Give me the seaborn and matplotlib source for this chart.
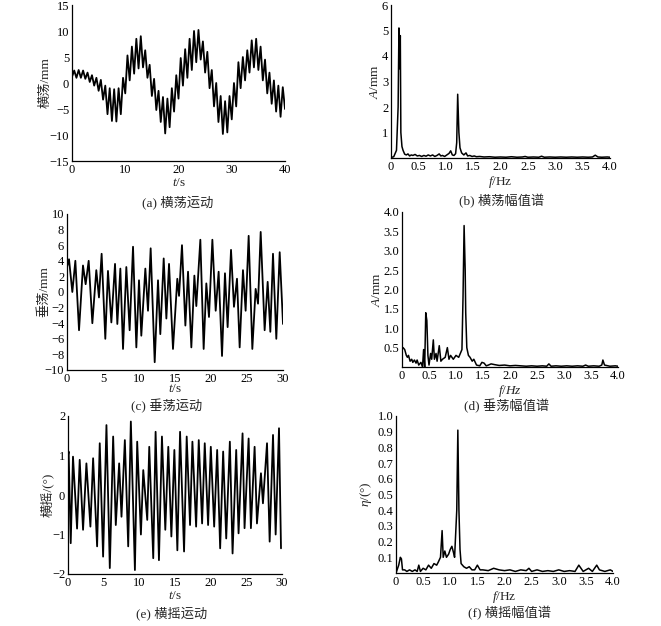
import matplotlib
matplotlib.use("Agg")
import matplotlib.pyplot as plt
import numpy as np
import seaborn as sns

sns.set_style("white")
plt.rcParams["font.family"] = ["Liberation Serif", "Noto Sans CJK SC"]
plt.rcParams["mathtext.fontset"] = "custom"
plt.rcParams["mathtext.rm"] = "Liberation Serif"
plt.rcParams["mathtext.it"] = "Liberation Serif:italic"
plt.rcParams["axes.unicode_minus"] = True

# (a) sway time history, extrema every half ripple period (40 s span)
sway = [1.2, 2.4, 1.0, 2.5, 1.0, 2.4, 0.8, 2.0, 0.2, 1.5, -0.5, 1.0, -1.5, 0.6,
        -3.2, -0.5, -6.0, -1.0, -7.3, -1.2, -7.4, -1.0, -6.0, 1.0, -2.0, 5.3,
        0.5, 7.0, 1.8, 8.5, 2.8, 9.0, 3.0, 6.3, 1.0, 3.5, -2.5, 0.8, -5.2, -1.5,
        -7.5, -2.7, -9.7, -3.0, -8.5, -1.0, -5.5, 1.5, -3.0, 4.8, -0.5, 6.5,
        1.0, 8.5, 2.5, 10.0, 4.0, 10.2, 4.5, 8.0, 2.0, 6.0, -1.0, 2.5, -4.5,
        0.0, -7.5, -2.5, -9.8, -3.5, -9.5, -2.5, -7.0, 0.0, -4.5, 4.0, -1.0,
        5.0, 0.5, 6.3, 2.0, 8.2, 3.0, 8.5, 2.5, 7.0, 0.5, 4.5, -2.0, 2.0, -4.0,
        0.5, -5.5, -0.5, -6.5, -0.8, -5.0]
sway_t = np.linspace(0, 40, len(sway))

# (b) sway amplitude spectrum
sway_f = [0, 0.05, 0.10, 0.13, 0.145, 0.16, 0.17, 0.18, 0.20, 0.22, 0.25, 0.28,
          0.31, 0.34, 0.37, 0.40, 0.44, 0.48, 0.52, 0.56, 0.60, 0.64, 0.68,
          0.72, 0.76, 0.80, 0.84, 0.88, 0.91, 0.94, 0.98, 1.02, 1.06, 1.09,
          1.12, 1.15, 1.18, 1.20, 1.218, 1.24, 1.26, 1.29, 1.33, 1.37, 1.40,
          1.44, 1.48, 1.52, 1.56, 1.62, 1.70, 1.80, 1.90, 2.00, 2.10, 2.20,
          2.30, 2.40, 2.45, 2.50, 2.60, 2.70, 2.75, 2.80, 2.90, 3.00, 3.10,
          3.20, 3.30, 3.40, 3.50, 3.60, 3.68, 3.73, 3.78, 3.85, 3.95, 4.0]
sway_A = [0.02, 0.05, 0.3, 2.0, 5.1, 3.5, 4.8, 1.0, 0.45, 0.3, 0.15, 0.12,
          0.16, 0.08, 0.12, 0.1, 0.14, 0.08, 0.1, 0.06, 0.1, 0.07, 0.12, 0.08,
          0.12, 0.06, 0.1, 0.16, 0.08, 0.1, 0.06, 0.12, 0.18, 0.28, 0.12, 0.1,
          0.17, 0.6, 2.5, 1.0, 0.4, 0.2, 0.12, 0.2, 0.08, 0.1, 0.06, 0.08, 0.05,
          0.06, 0.04, 0.05, 0.03, 0.04, 0.03, 0.05, 0.03, 0.04, 0.06, 0.03,
          0.04, 0.03, 0.07, 0.03, 0.04, 0.03, 0.04, 0.03, 0.04, 0.03, 0.04,
          0.03, 0.04, 0.11, 0.04, 0.03, 0.04, 0.03]

# (c) heave time history, extrema
heave_t = [0, 0.28, 0.74, 1.16, 1.67, 2.22, 2.59, 3.01, 3.52, 4.07, 4.44, 4.81,
           5.32, 5.69, 6.16, 6.67, 6.99, 7.41, 7.78, 8.24, 8.70, 9.17, 9.63,
           10.0, 10.32, 10.88, 11.25, 11.62, 12.18, 12.64, 12.96, 13.43, 13.80,
           14.17, 14.72, 15.32, 15.56, 15.97, 16.44, 16.81, 17.27, 17.69, 17.96,
           18.52, 18.98, 19.35, 19.72, 20.19, 20.65, 21.06, 21.53, 21.94, 22.31,
           22.78, 23.19, 23.61, 23.98, 24.44, 24.81, 25.23, 25.74, 26.20, 26.53,
           26.90, 27.45, 27.87, 28.24, 28.61, 29.07, 29.54, 30.0]
heave = [3.2, 4.2, 0.0, 4.0, -4.9, 3.4, 1.0, 4.0, -4.0, 2.8, -0.7, 4.9, -6.0,
         2.7, -3.9, 3.6, -4.1, 3.0, -7.3, 3.2, -4.9, 5.8, -7.1, 1.5, -5.6, 3.0,
         -2.4, 5.6, -9.0, 1.5, -5.4, 4.3, -3.4, 3.6, -7.3, 1.7, -0.5, 6.0, -4.3,
         2.6, -7.1, 2.1, -1.8, 6.7, -7.3, 1.1, -3.2, 6.7, -2.4, 2.6, -8.2, 2.4,
         -4.5, 5.4, -1.9, 1.7, -7.1, 2.8, -2.4, 7.2, -7.3, 0.4, -1.5, 7.7, -4.9,
         1.3, -5.1, 4.9, -6.0, 5.1, -4.1]

# (d) heave amplitude spectrum
heave_f = [0, 0.02, 0.05, 0.08, 0.10, 0.12, 0.15, 0.18, 0.20, 0.23, 0.26, 0.28,
           0.31, 0.35, 0.38, 0.40, 0.42, 0.44, 0.46, 0.48, 0.50, 0.53, 0.55,
           0.58, 0.60, 0.63, 0.65, 0.69, 0.72, 0.75, 0.80, 0.84, 0.87, 0.90,
           0.95, 1.00, 1.05, 1.08, 1.11, 1.13, 1.15, 1.17, 1.18, 1.20, 1.23,
           1.26, 1.30, 1.33, 1.38, 1.44, 1.48, 1.52, 1.56, 1.60, 1.65, 1.72,
           1.80, 1.90, 2.00, 2.10, 2.20, 2.30, 2.40, 2.50, 2.60, 2.68, 2.72,
           2.76, 2.85, 2.95, 3.05, 3.15, 3.25, 3.35, 3.40, 3.45, 3.55, 3.65,
           3.70, 3.72, 3.75, 3.85, 3.95, 4.0]
heave_A = [0.45, 0.5, 0.45, 0.3, 0.25, 0.3, 0.15, 0.2, 0.12, 0.18, 0.1, 0.18,
           0.05, 0.12, 0.0, 0.45, 0.0, 1.4, 1.2, 0.3, 0.05, 0.35, 0.2, 0.7,
           0.2, 0.35, 0.15, 0.55, 0.15, 0.2, 0.25, 0.5, 0.2, 0.3, 0.2, 0.3,
           0.25, 0.35, 0.45, 1.8, 3.65, 2.5, 1.4, 0.5, 0.3, 0.25, 0.15, 0.2,
           0.05, 0.03, 0.12, 0.1, 0.03, 0.05, 0.08, 0.06, 0.04, 0.05, 0.03,
           0.04, 0.03, 0.02, 0.03, 0.02, 0.03, 0.02, 0.08, 0.02, 0.03, 0.02,
           0.03, 0.02, 0.03, 0.02, 0.05, 0.02, 0.03, 0.02, 0.05, 0.18, 0.05,
           0.02, 0.03, 0.02]

# (e) roll time history, extrema
roll_t = [0, 0.09, 0.38, 0.70, 1.27, 1.64, 2.11, 2.58, 3.14, 3.52, 4.08, 4.45,
          4.92, 5.39, 5.86, 6.33, 6.70, 7.17, 7.50, 7.97, 8.44, 8.81, 9.38,
          9.70, 10.22, 10.55, 11.11, 11.39, 11.95, 12.28, 12.75, 13.17, 13.64,
          14.06, 14.49, 14.91, 15.33, 15.71, 16.27, 16.64, 17.11, 17.44, 17.96,
          18.33, 18.80, 19.17, 19.64, 20.02, 20.49, 20.91, 21.33, 21.75, 22.18,
          22.69, 23.07, 23.58, 23.91, 24.47, 24.75, 25.32, 25.64, 26.16, 26.49,
          27.05, 27.33, 27.90, 28.27, 28.74, 29.11, 29.58, 29.86]
roll = [1.0, 1.1, -1.22, 0.97, -0.85, 0.89, -0.88, 0.8, -0.8, 0.93, -1.3, 1.31,
        -1.56, 1.77, -1.85, 1.48, -0.76, 0.8, -0.55, 1.39, -1.3, 1.86, -1.9,
        1.35, -1.0, 0.63, -0.63, 1.22, -1.6, 1.6, -1.65, 1.48, -0.88, 1.22,
        -1.05, 1.14, -1.4, 1.6, -1.43, 1.48, -0.76, 1.35, -0.8, 1.39, -0.72,
        1.31, -0.76, 1.22, -0.8, 1.14, -1.35, 1.1, -1.1, 1.35, -1.48, 1.14,
        -0.97, 1.56, -0.84, 1.43, -0.84, 1.22, -0.72, 0.55, -0.21, 1.31, -1.18,
        1.52, -1.0, 1.69, -1.35]

# (f) roll amplitude spectrum
roll_f = [0, 0.05, 0.08, 0.10, 0.12, 0.16, 0.20, 0.25, 0.30, 0.35, 0.39, 0.42,
          0.45, 0.50, 0.55, 0.60, 0.65, 0.70, 0.75, 0.78, 0.82, 0.85, 0.87,
          0.90, 0.93, 0.97, 1.00, 1.03, 1.06, 1.08, 1.10, 1.12, 1.14, 1.16,
          1.18, 1.20, 1.25, 1.30, 1.35, 1.40, 1.45, 1.50, 1.55, 1.60, 1.70,
          1.80, 1.90, 2.00, 2.10, 2.20, 2.30, 2.40, 2.45, 2.50, 2.60, 2.70,
          2.80, 2.90, 3.00, 3.10, 3.20, 3.30, 3.37, 3.45, 3.55, 3.62, 3.70,
          3.75, 3.85, 3.95, 4.0]
roll_eta = [0.0, 0.05, 0.1, 0.09, 0.02, 0.02, 0.01, 0.02, 0.01, 0.02, 0.01,
            0.05, 0.01, 0.03, 0.02, 0.05, 0.03, 0.06, 0.05, 0.07, 0.1, 0.27,
            0.1, 0.14, 0.1, 0.12, 0.15, 0.17, 0.13, 0.1, 0.25, 0.4, 0.91, 0.4,
            0.15, 0.06, 0.04, 0.03, 0.04, 0.02, 0.02, 0.05, 0.02, 0.02, 0.015,
            0.03, 0.02, 0.015, 0.02, 0.01, 0.02, 0.015, 0.03, 0.01, 0.02, 0.01,
            0.015, 0.01, 0.02, 0.01, 0.015, 0.01, 0.05, 0.01, 0.03, 0.01, 0.05,
            0.02, 0.01, 0.02, 0.01]

W, H = 661, 626
fig = plt.figure(figsize=(W / 100, H / 100), dpi=100)


def add_ax(left, top, right, bottom):
    return fig.add_axes([left / W, 1 - bottom / H, (right - left) / W, (bottom - top) / H])


def style(ax, xlim, ylim, xticks, yticks, xlabels=None, ylabels=None):
    ax.set_xlim(xlim)
    ax.set_ylim(ylim)
    ax.set_xticks(xticks)
    ax.set_yticks(yticks)
    if xlabels is not None:
        ax.set_xticklabels(xlabels)
    if ylabels is not None:
        ax.set_yticklabels(ylabels)
    for side in ["top", "right"]:
        ax.spines[side].set_visible(False)
    for side in ["left", "bottom"]:
        ax.spines[side].set_color("k")
        ax.spines[side].set_linewidth(0.9)
    ax.tick_params(direction="in", length=3, width=0.8, labelsize=9, pad=2,
                   colors="k")


def caption(x, y, s):
    fig.text(x / W, 1 - y / H, s, ha="center", va="center", fontsize=9.5)


def ylab(ax, x, s):
    # y label centred on a fixed pixel column, as in the source figure
    ax.set_ylabel(s, fontsize=9.5)
    ax.yaxis.label.set_va("center")
    bb = ax.get_position()
    ax.yaxis.set_label_coords(x / W, bb.y0 + bb.height / 2, transform=fig.transFigure)


freq_labels = ["0", "0.5", "1.0", "1.5", "2.0", "2.5", "3.0", "3.5", "4.0"]
freq_ticks = [0, 0.5, 1, 1.5, 2, 2.5, 3, 3.5, 4]
lw = 1.3

# (a)
ax = add_ax(72, 5, 285, 161)
sns.lineplot(x=sway_t, y=sway, ax=ax, color="k", lw=lw, sort=False, estimator=None)
style(ax, (0, 40), (-15, 15), [0, 10, 20, 30, 40], [-15, -10, -5, 0, 5, 10, 15])
ax.set_xlabel("$t$/s", fontsize=9.5, labelpad=1)
ylab(ax, 45, "横荡/mm")
caption(178, 202, "(a) 横荡运动")

# (b)
ax = add_ax(391, 5, 610, 158)
sns.lineplot(x=sway_f, y=sway_A, ax=ax, color="k", lw=1.1, sort=False, estimator=None)
style(ax, (0, 4), (0, 6), freq_ticks, [1, 2, 3, 4, 5, 6], freq_labels)
ax.set_xlabel("$f$/Hz", fontsize=9.5, labelpad=1)
ylab(ax, 375, "$A$/mm")
caption(502, 201, "(b) 横荡幅值谱")

# (c)
ax = add_ax(67, 214, 283, 370)
sns.lineplot(x=heave_t, y=heave, ax=ax, color="k", lw=lw, sort=False, estimator=None)
style(ax, (0, 30), (-10, 10), [0, 5, 10, 15, 20, 25, 30], list(range(-10, 11, 2)))
ax.set_xlabel("$t$/s", fontsize=9.5, labelpad=-1)
ylab(ax, 44, "垂荡/mm")
caption(167, 406, "(c) 垂荡运动")

# (d)
ax = add_ax(402, 212, 618, 367)
sns.lineplot(x=heave_f, y=heave_A, ax=ax, color="k", lw=1.1, sort=False, estimator=None)
style(ax, (0, 4), (0, 4), freq_ticks, [0.5, 1, 1.5, 2, 2.5, 3, 3.5, 4], freq_labels,
      ["0.5", "1.0", "1.5", "2.0", "2.5", "3.0", "3.5", "4.0"])
ax.set_xlabel("$f$/$Hz$", fontsize=9.5, labelpad=1)
ylab(ax, 377, "$A$/mm")
caption(507, 406, "(d) 垂荡幅值谱")

# (e)
ax = add_ax(68, 416, 282, 574)
sns.lineplot(x=roll_t, y=roll, ax=ax, color="k", lw=lw, sort=False, estimator=None)
style(ax, (0, 30), (-2, 2), [0, 5, 10, 15, 20, 25, 30], [-2, -1, 0, 1, 2])
ax.set_xlabel("$t$/s", fontsize=9.5, labelpad=1)
ylab(ax, 47, "横摇/(°)")
caption(172, 613, "(e) 横摇运动")

# (f)
ax = add_ax(396, 416, 613, 573)
sns.lineplot(x=roll_f, y=roll_eta, ax=ax, color="k", lw=1.1, sort=False, estimator=None)
style(ax, (0, 4), (0, 1), freq_ticks, [0.1, 0.2, 0.3, 0.4, 0.5, 0.6, 0.7, 0.8, 0.9, 1.0],
      freq_labels, ["0.1", "0.2", "0.3", "0.4", "0.5", "0.6", "0.7", "0.8", "0.9", "1.0"])
ax.set_xlabel("$f$/Hz", fontsize=9.5, labelpad=1)
ylab(ax, 366, r"$\eta$/(°)")
caption(510, 613, "(f) 横摇幅值谱")

fig.savefig("out.png", dpi=100, facecolor="white")
